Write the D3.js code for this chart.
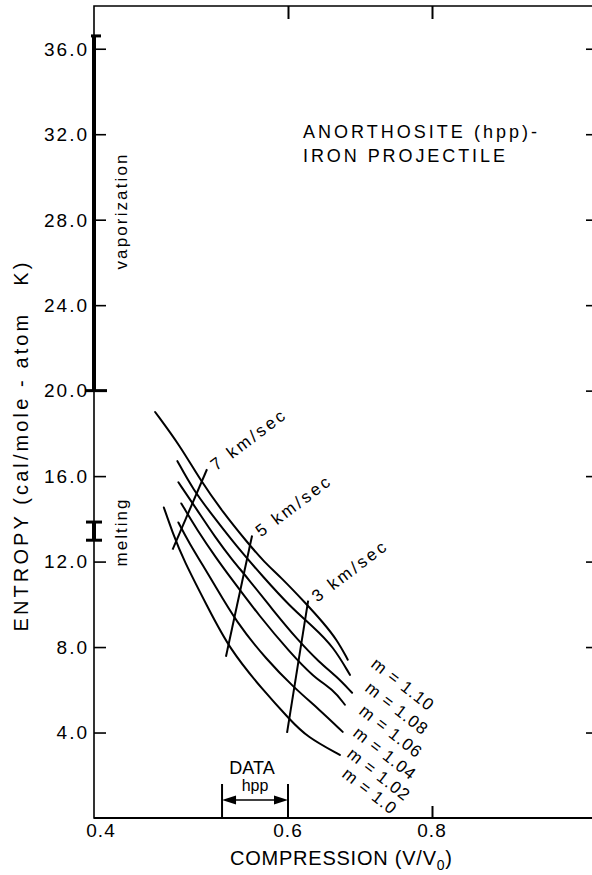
<!DOCTYPE html>
<html>
<head>
<meta charset="utf-8">
<script src="https://cdn.jsdelivr.net/npm/d3@7"></script>
<style>
  html, body { margin: 0; padding: 0; background: #fff; }
  svg { display: block; }
  text { font-family: "Liberation Sans", Arial, sans-serif; fill: #000; }
</style>
</head>
<body>
<svg id="chart" width="592" height="875"></svg>
<script>
// entropy vs compression, one curve per m value (top = 1.10)
const mLabels = ["1.10", "1.08", "1.06", "1.04", "1.02", "1.0"];
const m110 = [[0.463, 19.0], [0.489, 17.4], [0.509, 15.85], [0.533, 14.3], [0.558, 12.9], [0.576, 11.95], [0.592, 11.3], [0.626, 10.0], [0.649, 9.14], [0.668, 8.34], [0.683, 7.41]];
const m108 = [[0.486, 16.7], [0.502, 15.38], [0.523, 14.11], [0.547, 12.71], [0.574, 11.3], [0.603, 9.89], [0.635, 8.95], [0.663, 8.02], [0.686, 6.7]];
const m106 = [[0.487, 15.71], [0.506, 14.44], [0.525, 13.13], [0.543, 12.05], [0.558, 11.25], [0.585, 9.7], [0.613, 8.35], [0.644, 7.27], [0.668, 6.61], [0.689, 5.86]];
const m104 = [[0.490, 14.72], [0.506, 13.5], [0.527, 12.1], [0.540, 11.3], [0.571, 9.42], [0.603, 7.74], [0.635, 6.61], [0.663, 6.0], [0.679, 5.3]];
const m102 = [[0.487, 13.83], [0.496, 13.03], [0.523, 11.02], [0.547, 9.14], [0.578, 7.41], [0.607, 6.14], [0.644, 5.06], [0.676, 4.03]];
const m100 = [[0.472, 14.53], [0.481, 13.36], [0.492, 12.1], [0.517, 9.89], [0.540, 7.88], [0.574, 6.0], [0.603, 4.59], [0.626, 3.8], [0.672, 2.95]];
const mCurves = [m110, m108, m106, m104, m102, m100];

// constant impact velocity lines
const velLabels = ["7 km/sec", "5 km/sec", "3 km/sec"];
const vel7 = [[0.481, 12.56], [0.5165, 16.32]];
const vel5 = [[0.536, 7.55], [0.563, 13.22]];
const vel3 = [[0.599, 3.98], [0.628, 10.17]];
const velLines = [vel7, vel5, vel3];

const yTicks = [4, 8, 12, 16, 20, 24, 28, 32, 36];
const xTicks = [0.4, 0.6, 0.8];
const vaporization = [20.0, 36.6];
const melting = [13.0, 13.85];
const dataRange = [0.532, 0.6];

const svg = d3.select("#chart");

// the drawn axis is not evenly spaced, so piecewise
const x = d3.scaleLinear().domain([0.4, 0.6, 0.8]).range([94, 288, 432]);
const y = d3.scaleLinear().domain([0, 38]).range([818, 6]);

const pLeft = 94, pRight = 597, pTop = 6, pBottom = y(0);

// frame
svg.append("path")
  .attr("d", `M${pLeft},${pTop}H${pRight}V${pBottom}H${pLeft}Z`)
  .attr("fill", "none").attr("stroke", "#000").attr("stroke-width", 1.6);
svg.append("line")
  .attr("x1", pLeft).attr("x2", pRight).attr("y1", pBottom).attr("y2", pBottom)
  .attr("stroke", "#000").attr("stroke-width", 2.2);

// y ticks (inside, both sides)
const yAxisL = d3.axisRight(y).tickValues(yTicks).tickSize(12).tickFormat("");
svg.append("g").attr("transform", `translate(${pLeft},0)`).call(yAxisL)
  .call(g => g.select(".domain").remove())
  .selectAll("line").attr("stroke-width", 1.6);
const yAxisR = d3.axisLeft(y).tickValues(yTicks).tickSize(11).tickFormat("");
svg.append("g").attr("transform", `translate(${pRight},0)`).call(yAxisR)
  .call(g => g.select(".domain").remove())
  .selectAll("line").attr("stroke-width", 1.6);

svg.append("g").selectAll("text").data(yTicks).join("text")
  .attr("x", 89).attr("y", d => y(d))
  .attr("dy", "0.36em")
  .attr("text-anchor", "end")
  .attr("font-size", 19).attr("letter-spacing", 2)
  .text(d => d.toFixed(1));

// x ticks: top at 0.6/0.8, bottom at 0.8
const xAxisT = d3.axisBottom(x).tickValues([0.6, 0.8]).tickSize(13).tickFormat("");
svg.append("g").attr("transform", `translate(0,${pTop})`).call(xAxisT)
  .call(g => g.select(".domain").remove())
  .selectAll("line").attr("stroke-width", 2);
const xAxisB = d3.axisTop(x).tickValues([0.8]).tickSize(12).tickFormat("");
svg.append("g").attr("transform", `translate(0,${pBottom})`).call(xAxisB)
  .call(g => g.select(".domain").remove())
  .selectAll("line").attr("stroke-width", 2);

svg.append("g").selectAll("text").data(xTicks).join("text")
  .attr("x", (d, i) => x(d) + (i === 0 ? 7 : 0)).attr("y", 837)
  .attr("text-anchor", "middle")
  .attr("font-size", 19).attr("letter-spacing", 1)
  .text(d => d.toFixed(1));

// phase change bars on the entropy axis
svg.append("line")
  .attr("x1", pLeft).attr("x2", pLeft)
  .attr("y1", y(vaporization[1])).attr("y2", y(vaporization[0]))
  .attr("stroke", "#000").attr("stroke-width", 4);
svg.append("line")
  .attr("x1", pLeft - 3).attr("x2", pLeft + 7)
  .attr("y1", y(vaporization[1])).attr("y2", y(vaporization[1]))
  .attr("stroke", "#000").attr("stroke-width", 3);
svg.append("line")
  .attr("x1", pLeft - 9).attr("x2", pLeft + 13)
  .attr("y1", y(vaporization[0])).attr("y2", y(vaporization[0]))
  .attr("stroke", "#000").attr("stroke-width", 3);

svg.append("line")
  .attr("x1", pLeft).attr("x2", pLeft)
  .attr("y1", y(melting[1])).attr("y2", y(melting[0]))
  .attr("stroke", "#000").attr("stroke-width", 4);
svg.append("g").selectAll("line").data(melting).join("line")
  .attr("x1", pLeft - 8).attr("x2", pLeft + 8)
  .attr("y1", d => y(d)).attr("y2", d => y(d))
  .attr("stroke", "#000").attr("stroke-width", 3);

svg.append("text")
  .attr("transform", `translate(127,212) rotate(-90)`)
  .attr("text-anchor", "middle").attr("font-size", 17)
  .attr("textLength", 115).attr("lengthAdjust", "spacing")
  .text("vaporization");
svg.append("text")
  .attr("transform", `translate(127,533) rotate(-90)`)
  .attr("text-anchor", "middle").attr("font-size", 17)
  .attr("textLength", 67).attr("lengthAdjust", "spacing")
  .text("melting");

// curves, smoothed
const line = d3.line().x(d => x(d[0])).y(d => y(d[1])).curve(d3.curveBasis);

svg.append("g").selectAll("path").data(mCurves).join("path")
  .attr("d", line).attr("fill", "none")
  .attr("stroke", "#000").attr("stroke-width", 2).attr("stroke-linecap", "round");

svg.append("g").selectAll("path").data(velLines).join("path")
  .attr("d", d3.line().x(d => x(d[0])).y(d => y(d[1])))
  .attr("fill", "none").attr("stroke", "#000").attr("stroke-width", 2);

// velocity labels sit just beyond the top end of each line
svg.append("g").selectAll("text").data(velLines).join("text")
  .attr("transform", d => `translate(${x(d[1][0]) + 9},${y(d[1][1]) + 2}) rotate(-37)`)
  .attr("font-size", 17)
  .attr("textLength", 88).attr("lengthAdjust", "spacing")
  .text((d, i) => velLabels[i]);

// m labels beyond the right end of each curve
const mLabelPos = [[370, 666], [364, 690], [358, 713], [352, 735], [346, 756], [341, 776]];
svg.append("g").selectAll("text").data(mLabels).join("text")
  .attr("transform", (d, i) => `translate(${mLabelPos[i][0]},${mLabelPos[i][1]}) rotate(38)`)
  .attr("font-size", 17).attr("letter-spacing", 1)
  .text(d => "m = " + d);

// title
const title = svg.append("g").attr("font-size", 18);
title.append("text").attr("x", 303).attr("y", 138)
  .attr("textLength", 234).attr("lengthAdjust", "spacing")
  .text("ANORTHOSITE (hpp)-");
title.append("text").attr("x", 303).attr("y", 162)
  .attr("textLength", 202).attr("lengthAdjust", "spacing")
  .text("IRON PROJECTILE");

// DATA hpp range bracket
const dataG = svg.append("g");
dataG.selectAll("line").data(dataRange).join("line")
  .attr("x1", d => x(d)).attr("x2", d => x(d))
  .attr("y1", 784).attr("y2", pBottom)
  .attr("stroke", "#000").attr("stroke-width", 2);
const xa = x(dataRange[0]), xb = x(dataRange[1]), ya = 800;
dataG.append("line").attr("x1", xa + 10).attr("x2", xb - 10).attr("y1", ya).attr("y2", ya)
  .attr("stroke", "#000").attr("stroke-width", 1.5);
dataG.append("path")
  .attr("d", `M${xa},${ya}l14,-4.5v9Z M${xb},${ya}l-14,-4.5v9Z`)
  .attr("fill", "#000");
dataG.append("text").attr("x", (xa + xb) / 2 - 3).attr("y", 774)
  .attr("text-anchor", "middle").attr("font-size", 18).text("DATA");
dataG.append("text").attr("x", (xa + xb) / 2).attr("y", 791)
  .attr("text-anchor", "middle").attr("font-size", 16).text("hpp");

// axis titles
const xt = svg.append("text").attr("x", 230).attr("y", 865)
  .attr("font-size", 20)
  .attr("textLength", 222).attr("lengthAdjust", "spacing");
xt.append("tspan").text("COMPRESSION (V/V");
xt.append("tspan").attr("font-size", 14).attr("dy", 5).text("0");
xt.append("tspan").attr("dy", -5).text(")");

svg.append("text")
  .attr("transform", "translate(28,447) rotate(-90)")
  .attr("text-anchor", "middle").attr("font-size", 20)
  .attr("textLength", 369).attr("lengthAdjust", "spacing")
  .text("ENTROPY (cal/mole - atom\u00a0\u00a0\u00a0K)");
</script>
</body>
</html>
